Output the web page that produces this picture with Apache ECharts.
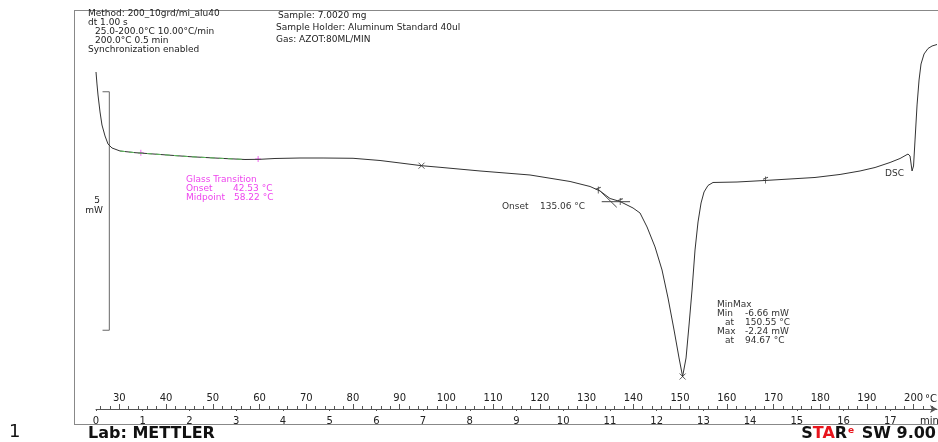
<!DOCTYPE html>
<html>
<head>
<meta charset="utf-8">
<title>DSC</title>
<script src="https://cdn.jsdelivr.net/npm/echarts@6.0.0/dist/echarts.min.js"></script>
<style>
  html, body { margin: 0; padding: 0; background: #fff; }
  #chart { width: 938px; height: 442px; }
</style>
</head>
<body>
<div id="chart"></div>
<script>
// DSC curve: time in min, heat flow in mW
const timeMin = [0, 0.021, 0.043, 0.086, 0.128, 0.193, 0.257, 0.342, 0.514, 0.835,
  1.370, 2.012, 2.654, 3.189, 3.510, 3.831, 4.366, 4.859, 5.501, 6.079,
  6.507, 6.967, 7.363, 8.219, 9.289, 10.146, 10.574, 10.788, 11.002, 11.216,
  11.494, 11.644, 11.794, 11.965, 12.115, 12.243, 12.372, 12.479, 12.555, 12.629,
  12.693, 12.757, 12.821, 12.885, 12.950, 13.014, 13.099, 13.206, 13.720, 14.319,
  14.854, 15.389, 15.925, 16.353, 16.674, 16.995, 17.209, 17.380, 17.423, 17.466,
  17.498, 17.530, 17.573, 17.616, 17.658, 17.723, 17.808, 17.894, 18.0];
const dscMw = [-0.276, -0.527, -0.758, -1.114, -1.387, -1.617, -1.785, -1.869, -1.932, -1.967,
  -2.005, -2.051, -2.085, -2.110, -2.106, -2.089, -2.079, -2.079, -2.085, -2.131,
  -2.183, -2.240, -2.274, -2.351, -2.435, -2.571, -2.676, -2.770, -2.928, -2.991,
  -3.127, -3.232, -3.525, -3.944, -4.427, -5.014, -5.685, -6.271, -6.660, -6.271,
  -5.580, -4.846, -4.007, -3.420, -3.022, -2.791, -2.655, -2.592, -2.582, -2.550,
  -2.519, -2.487, -2.424, -2.351, -2.278, -2.173, -2.089, -1.995, -2.037, -2.351,
  -2.246, -1.701, -0.967, -0.443, -0.108, 0.102, 0.217, 0.269, 0.301];

// ruler: temperature above the line, time below
const tempLabels = [30, 40, 50, 60, 70, 80, 90, 100, 110, 120, 130, 140, 150, 160, 170, 180, 190, 200];
const timeLabels = [0, 1, 2, 3, 4, 5, 6, 7, 8, 9, 10, 11, 12, 13, 14, 15, 16, 17];

// evaluation marks [min, mW]
const glassMarks = [[0.96, -1.97], [3.47, -2.10]];
const evalTicks = [[10.75, -2.75], [11.22, -2.99], [14.33, -2.54]];
const minMaxMarks = [[6.967, -2.24], [12.555, -6.66]];
const onsetTangent = [[10.752, -2.735], [11.145, -3.112]];
const onsetBaseline = [[10.824, -2.995], [11.430, -2.995]];
const scaleBar = [[0.14, -0.69], [0.285, -0.69], [0.285, -5.69], [0.14, -5.69]];

const curve = timeMin.map((t, i) => [t, dscMw[i]]);
const glassPart = curve.filter(d => d[0] >= 0.45 && d[0] <= 3.5);

const tempMinor = [];
for (let v = 26; v <= 204; v += 2) tempMinor.push(v);

const font = '"DejaVu Sans", sans-serif';
const txt = (text, x, y, color, size, align) => ({
  type: 'text', x: x, y: y, silent: true,
  style: {
    text: text, fill: color || '#222', font: (size || 9) + 'px ' + font,
    verticalAlign: 'middle', align: align || 'left'
  }
});
const ln = (x1, y1, x2, y2, color) => ({
  type: 'line', silent: true, shape: { x1: x1, y1: y1, x2: x2, y2: y2 },
  style: { stroke: color || '#777', lineWidth: 1 }
});

const chart = echarts.init(document.getElementById('chart'));
chart.setOption({
  animation: false,
  backgroundColor: '#fff',
  grid: { left: 96, right: 1, top: 10, bottom: 33, containLabel: false, outerBoundsMode: 'none' },
  xAxis: [
    {
      type: 'value', min: 0, max: 18, position: 'bottom',
      axisLine: { show: true, onZero: false, symbol: ['none', 'arrow'], symbolSize: [6, 7], lineStyle: { color: '#555', width: 1 } },
      axisTick: { show: true, customValues: timeLabels, length: 2, lineStyle: { color: '#555' } },
      axisLabel: { customValues: timeLabels, color: '#222', fontSize: 10, fontFamily: font, margin: 7 },
      splitLine: { show: false },
      name: 'min', nameLocation: 'end', nameGap: -17, nameMoveOverlap: false,
      nameTextStyle: { color: '#222', fontSize: 10, fontFamily: font, align: 'left', verticalAlign: 'top', padding: [7, 0, 0, 0] }
    },
    {
      type: 'value', min: 25, max: 205, position: 'bottom',
      axisLine: { show: false, onZero: false },
      axisTick: { show: true, inside: true, customValues: tempMinor, length: 3, lineStyle: { color: '#555' } },
      axisLabel: { inside: true, customValues: tempLabels, color: '#222', fontSize: 10, fontFamily: font, margin: 6 },
      splitLine: { show: false },
      name: '°C', nameLocation: 'end', nameGap: -12, nameMoveOverlap: false,
      nameTextStyle: { color: '#222', fontSize: 10, fontFamily: font, align: 'left', verticalAlign: 'bottom', padding: [0, 0, 5, 0] }
    },
    {
      type: 'value', min: 25, max: 205, position: 'bottom',
      axisLine: { show: false, onZero: false },
      axisTick: { show: true, inside: true, customValues: tempLabels, length: 5, lineStyle: { color: '#555' } },
      axisLabel: { show: false },
      splitLine: { show: false }
    }
  ],
  yAxis: { type: 'value', min: -7.341, max: 1.024, show: false },
  series: [
    {
      name: 'scale', type: 'line', data: scaleBar, showSymbol: false, silent: true,
      lineStyle: { color: '#666', width: 1 }
    },
    {
      name: 'DSC', type: 'line', data: curve, showSymbol: false, silent: true,
      lineStyle: { color: '#333', width: 1 }
    },
    {
      name: 'glass', type: 'line', data: glassPart, showSymbol: false, silent: true,
      lineStyle: { color: '#5fbf5f', width: 1, type: [5, 4] }
    },
    {
      name: 'tangent', type: 'line', data: onsetTangent, showSymbol: false, silent: true,
      lineStyle: { color: '#444', width: 1 }
    },
    {
      name: 'baseline', type: 'line', data: onsetBaseline, showSymbol: false, silent: true,
      lineStyle: { color: '#444', width: 1 }
    },
    {
      name: 'glassMarks', type: 'scatter', data: glassMarks, silent: true,
      symbol: 'path://M5,0L5,10M0,5L10,5', symbolSize: 6,
      itemStyle: { color: 'transparent', borderColor: '#ee44ee', borderWidth: 1 }
    },
    {
      name: 'evalTicks', type: 'scatter', data: evalTicks, silent: true,
      symbol: 'path://M5,0L5,10M2,4L8,1', symbolSize: [5, 7],
      itemStyle: { color: 'transparent', borderColor: '#222', borderWidth: 1 }
    },
    {
      name: 'minMax', type: 'scatter', data: minMaxMarks, silent: true,
      symbol: 'path://M0,0L10,10M10,0L0,10', symbolSize: 6,
      itemStyle: { color: 'transparent', borderColor: '#333', borderWidth: 1 }
    }
  ],
  graphic: [
    // frame
    ln(74.5, 10, 74.5, 424.5, '#888'),
    ln(74, 10.5, 938, 10.5, '#888'),
    ln(74, 424.5, 938, 424.5, '#888'),
    // header
    txt('Method: 200_10grd/mi_alu40', 88, 14),
    txt('dt 1.00 s', 88, 23),
    txt('25.0-200.0°C 10.00°C/min', 95, 32),
    txt('200.0°C 0.5 min', 95, 41),
    txt('Synchronization enabled', 88, 50),
    txt('Sample: 7.0020 mg', 278, 16),
    txt('Sample Holder: Aluminum Standard 40ul', 276, 28),
    txt('Gas: AZOT:80ML/MIN', 276, 40),
    // scale bar label
    txt('5', 97, 201, '#222', 9, 'center'),
    txt('mW', 94, 211, '#222', 9, 'center'),
    // glass transition
    txt('Glass Transition', 186, 180, '#ee44ee'),
    txt('Onset', 186, 189, '#ee44ee'),
    txt('42.53 °C', 233, 189, '#ee44ee'),
    txt('Midpoint', 186, 198, '#ee44ee'),
    txt('58.22 °C', 234, 198, '#ee44ee'),
    // onset
    txt('Onset', 502, 207, '#333'),
    txt('135.06 °C', 540, 207, '#333'),
    // min max
    txt('MinMax', 717, 305, '#333'),
    txt('Min', 717, 314, '#333'),
    txt('-6.66 mW', 745, 314, '#333'),
    txt('at', 725, 323, '#333'),
    txt('150.55 °C', 745, 323, '#333'),
    txt('Max', 717, 332, '#333'),
    txt('-2.24 mW', 745, 332, '#333'),
    txt('at', 725, 341, '#333'),
    txt('94.67 °C', 745, 341, '#333'),
    txt('DSC', 885, 174, '#333'),
    // footer
    txt('1', 9, 432, '#111', 18),
    {
      type: 'text', x: 88, y: 434, silent: true,
      style: { text: 'Lab: METTLER', fill: '#111', font: 'bold 16px ' + font, verticalAlign: 'middle' }
    },
    {
      type: 'text', x: 936, y: 434, silent: true,
      style: {
        text: '{k|S}{r|TA}{k|R}{e|e}{k| SW 9.00}', align: 'right', verticalAlign: 'middle',
        rich: {
          k: { fill: '#111', font: 'bold 16px ' + font },
          r: { fill: '#e8141c', font: 'bold 16px ' + font },
          e: { fill: '#e8141c', font: 'bold 9px ' + font, verticalAlign: 'top', padding: [0, 2, 7, 1] }
        }
      }
    }
  ]
});
</script>
</body>
</html>
